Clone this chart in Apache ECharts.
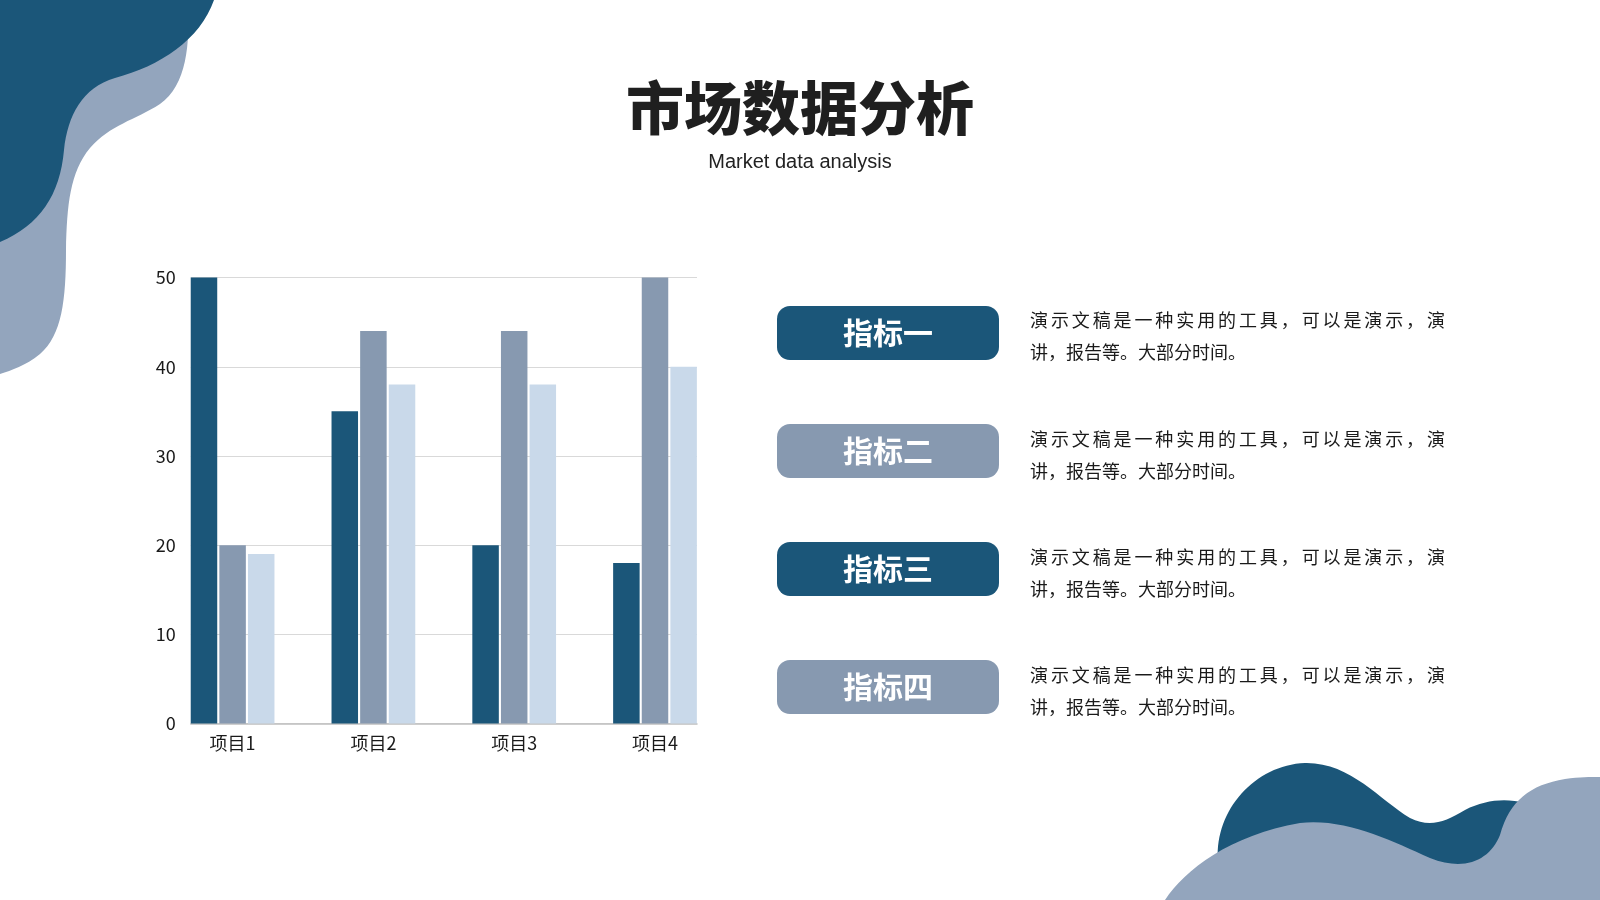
<!DOCTYPE html>
<html>
<head>
<meta charset="utf-8">
<title>市场数据分析</title>
<script src="https://cdn.jsdelivr.net/npm/echarts@6.0.0/dist/echarts.min.js"></script>
<style>
  html, body { margin: 0; padding: 0; background: #fff; }
  #wrap { position: relative; width: 1600px; height: 900px; overflow: hidden; }
  #main { position: absolute; left: 0; top: 0; width: 1600px; height: 900px; }
  .desc {
    position: absolute; left: 1030px; width: 415px;
    font-family: "Noto Sans CJK SC", sans-serif; font-size: 18px;
    line-height: 32px; color: #1a1a1a; white-space: nowrap;
  }
  .desc .full { text-align: justify; text-align-last: justify; }
</style>
</head>
<body>
<div id="wrap">
  <div id="main"></div>
</div>
<script>
// chart data
const categories = ['项目1', '项目2', '项目3', '项目4'];
const series1 = [50, 35, 20, 18];
const series2 = [20, 44, 44, 50];
const series3 = [19, 38, 38, 40];
const yMin = 0;
const yMax = 50;
const yStep = 10;

// side panel
const indicators = ['指标一', '指标二', '指标三', '指标四'];
const descLines = ['演示文稿是一种实用的工具，可以是演示，演', '讲，报告等。大部分时间。'];

const DARK = '#1b5679';
const MID = '#8799b0';
const LIGHT = '#c9d9ea';
const BLOB = '#93a5bd';

// decorative blobs, registered as shapes so the graphic component can draw them
const blobPaths = {
  blobTopLight: 'M0,0 L188,0 C190,45 187,85 160,104 C135,120 110,125 90,148 C70,172 67,205 66,250 C66,300 62,335 40,354 C25,366 12,370 0,374 Z',
  blobTopDark: 'M0,0 L214,0 C200,40 160,66 115,78 C82,88 68,115 64,150 C60,195 40,225 0,242 Z',
  blobBottomDark: 'M1218,900 L1218,860 C1215,810 1255,765 1305,763 C1350,762 1380,800 1410,818 C1430,828 1445,822 1465,810 C1485,800 1505,798 1525,803 L1530,900 Z',
  blobBottomLight: 'M1165,900 C1185,870 1230,835 1300,823 C1345,818 1390,840 1430,858 C1465,872 1490,860 1500,835 C1510,800 1530,785 1565,779 C1580,777 1590,777 1600,777 L1600,900 Z'
};
Object.keys(blobPaths).forEach(k => {
  echarts.graphic.registerShape(k, echarts.graphic.extendPath(blobPaths[k], {}));
});

const chart = echarts.init(document.getElementById('main'), null, { renderer: 'canvas' });

const graphic = [
  { type: 'blobTopLight', z: 0, style: { fill: BLOB } },
  { type: 'blobTopDark', z: 1, style: { fill: DARK } },
  { type: 'blobBottomDark', z: 0, style: { fill: DARK } },
  { type: 'blobBottomLight', z: 1, style: { fill: BLOB } },
  { type: 'text', z: 5, style: { x: 800, y: 108, text: '市场数据分析', textAlign: 'center', textVerticalAlign: 'middle', font: '900 58px "Noto Sans CJK SC"', fill: '#1f1f1f' } },
  { type: 'text', z: 5, style: { x: 800, y: 162, text: 'Market data analysis', textAlign: 'center', textVerticalAlign: 'middle', font: '20px "Liberation Sans", Arial', fill: '#222' } }
];

indicators.forEach((name, i) => {
  const cy = 333 + i * 118;
  graphic.push({
    type: 'rect', z: 5,
    shape: { x: 777, y: cy - 27, width: 222, height: 54, r: 13 },
    style: { fill: i % 2 === 0 ? DARK : MID }
  });
  graphic.push({
    type: 'text', z: 6,
    style: { x: 888, y: cy, text: name, textAlign: 'center', textVerticalAlign: 'middle', font: 'bold 30px "Noto Sans CJK SC"', fill: '#fff' }
  });
});

const labelFont = { fontFamily: 'Noto Sans CJK SC', fontSize: 18, color: '#1a1a1a' };

const option = {
  backgroundColor: 'transparent',
  animation: false,
  graphic: graphic,
  grid: [
    // bars
    { left: 162.2, right: 874.6, top: 277.6, bottom: 176.5 },
    // gridlines, value labels and baseline
    { left: 190.8, right: 903, top: 277.6, bottom: 176.5 }
  ],
  xAxis: [
    {
      type: 'category', gridIndex: 0, data: categories,
      axisLine: { show: false }, axisTick: { show: false },
      axisLabel: Object.assign({ margin: 11 }, labelFont)
    },
    {
      type: 'category', gridIndex: 1, data: categories,
      axisLine: { show: true, lineStyle: { color: '#bfbfbf', width: 1.5 } },
      axisTick: { show: false }, axisLabel: { show: false }
    }
  ],
  yAxis: [
    { type: 'value', gridIndex: 0, min: yMin, max: yMax, interval: yStep, show: false },
    {
      type: 'value', gridIndex: 1, min: yMin, max: yMax, interval: yStep,
      axisLine: { show: false }, axisTick: { show: false },
      axisLabel: Object.assign({ margin: 15 }, labelFont),
      splitLine: { lineStyle: { color: '#d9d9d9', width: 1 } }
    }
  ],
  series: [
    { name: '系列1', type: 'bar', xAxisIndex: 0, yAxisIndex: 0, data: series1, barWidth: 26.5, barGap: '8%', itemStyle: { color: DARK } },
    { name: '系列2', type: 'bar', xAxisIndex: 0, yAxisIndex: 0, data: series2, barWidth: 26.5, barGap: '8%', itemStyle: { color: MID } },
    { name: '系列3', type: 'bar', xAxisIndex: 0, yAxisIndex: 0, data: series3, barWidth: 26.5, barGap: '8%', itemStyle: { color: LIGHT } }
  ]
};

chart.setOption(option);

// description text beside each pill; first line is justified to the box width
const wrap = document.getElementById('wrap');
indicators.forEach((name, i) => {
  const d = document.createElement('div');
  d.className = 'desc';
  d.style.top = (303.4 + i * 118.3) + 'px';
  descLines.forEach((line, j) => {
    const l = document.createElement('div');
    if (j < descLines.length - 1) l.className = 'full';
    l.textContent = line;
    d.appendChild(l);
  });
  wrap.appendChild(d);
});
</script>
</body>
</html>
